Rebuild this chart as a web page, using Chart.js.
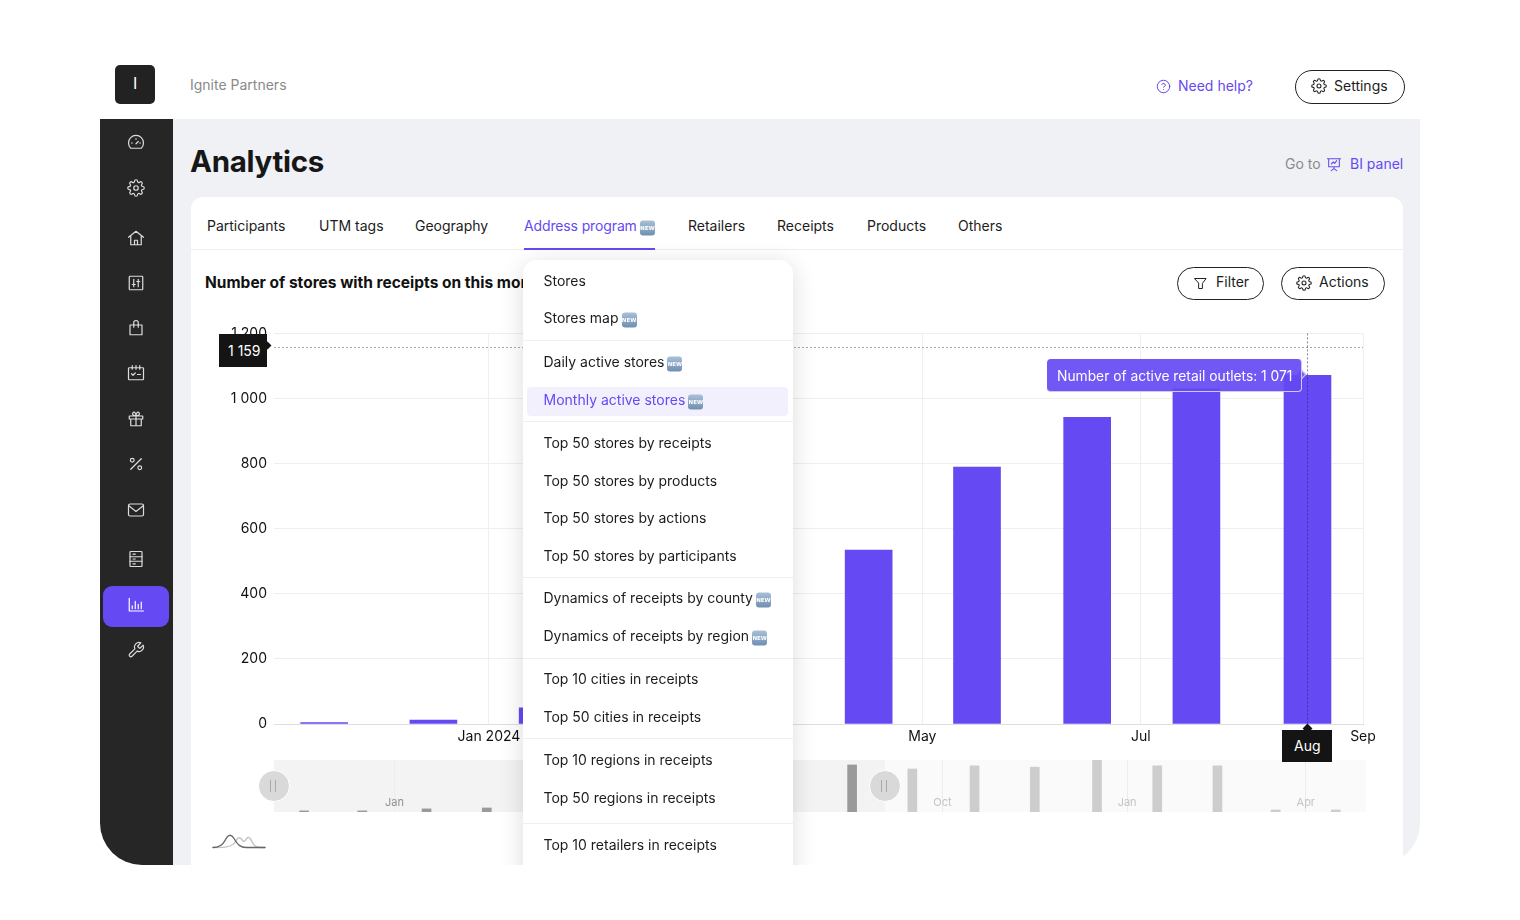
<!DOCTYPE html>
<html>
<head>
<meta charset="utf-8">
<title>Analytics</title>
<script src="https://cdn.jsdelivr.net/npm/chart.js@4/dist/chart.umd.min.js"></script>
<style>
  html, body { margin: 0; background: #fff; font-family: Inter, sans-serif; color: #1c1c1c; }
  body { width: 1520px; height: 920px; position: relative; overflow: hidden; }
  .t { position: absolute; white-space: nowrap; transform: translateY(calc(-50% - 1px)); font-size: 14px; }
  .box { position: absolute; box-sizing: border-box; }
  .ic { position: absolute; fill: none; stroke: currentColor; stroke-width: 1.6; stroke-linecap: round; stroke-linejoin: round; }
  .pill { position: absolute; box-sizing: border-box; border: 1.5px solid #222; border-radius: 20px; background: #fff; }
  .new { display: inline-block; width: 15px; height: 15px; margin-left: 3px; border-radius: 3px; background: linear-gradient(#a9c0d8, #6f8fb2);
         color: #fff; font: bold 5.500px/15px "DejaVu Sans"; text-align: center; vertical-align: 1px; letter-spacing: 0; }
  #clip { position: absolute; left: 100px; top: 119px; width: 1320px; height: 746px; overflow: hidden; border-radius: 0 0 42px 42px; background: #eff1f4; }
  #inner { position: absolute; left: -100px; top: -119px; width: 1520px; height: 920px; }
  #chartWrap { position: absolute; left: 191px; top: 318px; width: 1212px; height: 442px; }
  #navWrap { position: absolute; left: 274px; top: 760px; width: 1092px; height: 52px; background: linear-gradient(90deg, #f3f3f3 0, #f3f3f3 611px, #fafafa 611px); }
  #menu { position: absolute; left: 523px; top: 260px; width: 270px; height: 640px; background: #fff; border-radius: 14px; box-shadow: 0 4px 24px rgba(0,0,0,.14); }
  .handle { position: absolute; width: 32px; height: 32px; margin: -16px 0 0 -16px; box-sizing: border-box; border-radius: 50%; background: #d9d9d9; border: 1px solid #fff; }
  .handle:after { content: ""; position: absolute; left: 11px; top: 9px; width: 4px; height: 12px; border-left: 1px solid #aaa; border-right: 1px solid #aaa; }
</style>
</head>
<body>
<div id="page"></div>
<script>
// main chart, one bar per month
const monthDates = ["2023-11-16", "2023-12-16T12:00Z", "2024-01-16", "2024-02-15", "2024-03-16", "2024-04-16", "2024-05-16T06:00Z", "2024-06-16", "2024-07-16T12:00Z", "2024-08-16T12:00Z"];
const storeCounts = [4, 12, 50, 140, 330, 534, 789, 942, 1030, 1071];
const tickDates = ["2024-01-01", "2024-03-01", "2024-05-01", "2024-07-01", "2024-09-01"];
const tickLabels = ["Jan 2024", "Mar", "May", "Jul", "Sep"];
const yTicks = [0, 200, 400, 600, 800, 1000, 1200];
const xRange = ["2023-11-02", "2024-09-01"];
const hoverMonth = "2024-08-16T12:00Z";
const hoverValue = 1159;

// overview strip under the chart
const navDates = ["2022-11-17", "2022-12-16", "2023-01-17", "2023-02-16", "2023-03-16", "2023-04-16", "2023-05-16", "2023-06-16", "2023-07-16", "2023-08-17", "2023-09-16", "2023-10-17", "2023-11-16", "2023-12-17", "2024-01-16", "2024-02-15", "2024-03-15", "2024-04-14"];
const navCounts = [25, 25, 70, 90, 130, 340, 540, 790, 1000, 1050, 960, 1030, 1000, 1160, 1030, 1030, 45, 45];
const navTickDates = ["2023-01-01", "2023-10-01", "2024-01-01", "2024-03-30"];
const navTickLabels = ["Jan", "Oct", "Jan", "Apr"];
const navRange = ["2022-11-02", "2024-04-29"];
const navSplit = "2023-09-01";

const tabs = [["Participants", 207], ["UTM tags", 319], ["Geography", 415], ["Address program", 524, 1], ["Retailers", 688], ["Receipts", 777], ["Products", 867], ["Others", 958]];
const menuItems = [["Stores", 281], ["Stores map", 318, 1], ["Daily active stores", 362, 1], ["Monthly active stores", 400, 1], ["Top 50 stores by receipts", 443], ["Top 50 stores by products", 481], ["Top 50 stores by actions", 518], ["Top 50 stores by participants", 556], ["Dynamics of receipts by county", 598, 1], ["Dynamics of receipts by region", 636, 1], ["Top 10 cities in receipts", 679], ["Top 50 cities in receipts", 717], ["Top 10 regions in receipts", 760], ["Top 50 regions in receipts", 798], ["Top 10 retailers in receipts", 845]];
const menuLines = [340, 421, 577, 658, 738, 823];

const purple = "#6549f3";
const ms = d => Date.parse(d);

const icons = {
  gear: '<circle cx="12" cy="12" r="3"/><path d="M19.4 15a1.65 1.65 0 0 0 .33 1.82l.06.06a2 2 0 0 1-2.83 2.83l-.06-.06a1.65 1.65 0 0 0-1.82-.33 1.65 1.65 0 0 0-1 1.51V21a2 2 0 0 1-4 0v-.09A1.65 1.65 0 0 0 9 19.4a1.65 1.65 0 0 0-1.82.33l-.06.06a2 2 0 0 1-2.83-2.83l.06-.06a1.65 1.65 0 0 0 .33-1.82 1.65 1.65 0 0 0-1.51-1H3a2 2 0 0 1 0-4h.09A1.65 1.65 0 0 0 4.6 9a1.65 1.65 0 0 0-.33-1.82l-.06-.06a2 2 0 0 1 2.83-2.83l.06.06a1.65 1.65 0 0 0 1.82.33H9a1.65 1.65 0 0 0 1-1.51V3a2 2 0 0 1 4 0v.09a1.65 1.65 0 0 0 1 1.51 1.65 1.65 0 0 0 1.82-.33l.06-.06a2 2 0 0 1 2.83 2.83l-.06.06a1.65 1.65 0 0 0-.33 1.82V9a1.65 1.65 0 0 0 1.51 1H21a2 2 0 0 1 0 4h-.09a1.65 1.65 0 0 0-1.51 1z"/>',
  gauge: '<path d="M5 19a10 10 0 1 1 14 0zM12 13l3-3M6 12h1M17 12h1M12 6v1"/>',
  home: '<path d="M2 11l10-8 10 8M5 9v12h14V9M10 21v-6h4v6"/>',
  sliders: '<rect x="3" y="3" width="18" height="18" rx="1"/><path d="M9 7v10M15 7v10M7 14h4M13 10h4"/>',
  bag: '<path d="M4 8h16v13H4zM9 11V5a3 3 0 0 1 6 0v6"/>',
  cal: '<rect x="2" y="5" width="20" height="16" rx="1"/><path d="M7 2v5M12 2v5M17 2v5M6 13l2 2 3-3M14 14h4"/>',
  gift: '<path d="M3 8h18v4H3zM5 12v9h14v-9M12 8v13M12 8C9 8 6 6 8 3.500s4 1.500 4 4.500c0-3 2-7 4-4.500s-1 4.500-4 4.500"/>',
  percent: '<path d="M19 5L5 19"/><circle cx="7" cy="7" r="2.500"/><circle cx="17" cy="17" r="2.500"/>',
  mail: '<rect x="2" y="4" width="20" height="16" rx="2"/><path d="M2 6l10 8 10-8"/>',
  list: '<rect x="4" y="2" width="16" height="20" rx="1"/><path d="M4 9h16M4 15h16M8 5.500h3M8 12h3M8 18.500h3"/>',
  bars: '<path d="M3 3v17h19M7 17v-4M11 17V7M15 17v-6M19 17V8"/>',
  tool: '<path d="M14.7 6.300a1 1 0 0 0 0 1.400l1.600 1.600a1 1 0 0 0 1.400 0l3.770-3.770a6 6 0 0 1-7.940 7.940l-6.910 6.910a2.120 2.120 0 0 1-3-3l6.910-6.910a6 6 0 0 1 7.940-7.940l-3.760 3.760z"/>',
  help: '<circle cx="12" cy="12" r="10"/><path d="M9.100 9a3 3 0 0 1 5.800 1c0 2-3 3-3 3M12 17h.01"/>',
  board: '<path d="M2 4h20M4 4v12h16V4M12 16v3M8 22l4-3 4 3M8 12l3-3 2 2 3-4"/>',
  filter: '<path d="M3 4h18l-6 8v8H9v-8z"/>'
};
const icon = (name, cx, cy, size, color) =>
  `<svg class="ic" viewBox="0 0 24 24" width="${size}" height="${size}" style="left:${cx - size / 2}px;top:${cy - size / 2}px;color:${color}">${icons[name]}</svg>`;
const text = (s, x, y, css) => `<div class="t" style="left:${x}px;top:${y}px;${css || ""}">${s}</div>`;
const box = (x, y, w, h, css) => `<div class="box" style="left:${x}px;top:${y}px;width:${w}px;height:${h}px;${css}"></div>`;
const newTag = '<span class="new">NEW</span>';

const sideIcons = [["gauge", 143], ["gear", 188], ["home", 238], ["sliders", 283], ["bag", 328], ["cal", 373], ["gift", 419], ["percent", 464], ["mail", 510], ["list", 559], ["bars", 605], ["tool", 650]];

let html = "";
// top bar
html += box(115, 65, 40, 39, "background:#222;border-radius:5px");
html += text("I", 133, 84, "color:#fff;font-size:16px");
html += text("Ignite Partners", 190, 85, "color:#8a8a8a;font-size:14px");
html += icon("help", 1163, 86, 15, purple);
html += text("Need help?", 1178, 86, `color:${purple}`);
html += `<div class="pill" style="left:1295px;top:70px;width:110px;height:34px"></div>`;
html += icon("gear", 1319, 86, 16, "#222");
html += text("Settings", 1334, 86);

// frame
html += '<div id="clip"><div id="inner">';
html += box(100, 119, 73, 760, "background:#262626");
html += box(103, 586, 66, 41, `background:${purple};border-radius:9px`);
sideIcons.forEach(([n, y]) => { html += icon(n, 136, y, 18, n === "bars" ? "#fff" : "#ddd"); });
html += text("Analytics", 190, 162, "font-size:29.500px;font-weight:700;letter-spacing:-.3px;color:#171717");
html += text("Go to", 1285, 164, "color:#8a8a8a");
html += icon("board", 1334, 164, 16, purple);
html += text("BI panel", 1350, 164, `color:${purple}`);

// card
html += box(191, 197, 1212, 700, "background:#fff;border-radius:12px 12px 0 0");
html += box(191, 249, 1212, 1, "background:#eeeff1");
tabs.forEach(([s, x, isNew]) => {
  html += text(s + (isNew ? newTag : ""), x, isNew ? 227 : 226, s === "Address program" ? `color:${purple};letter-spacing:-.13px` : "");
});
html += box(524, 248, 131, 2, `background:${purple}`);
html += text("Number of stores with receipts on this month", 205, 283, "font-size:15.500px;font-weight:700;color:#111");
html += `<div class="pill" style="left:1177px;top:267px;width:87px;height:33px"></div>`;
html += icon("filter", 1200, 283, 15, "#222");
html += text("Filter", 1216, 282);
html += `<div class="pill" style="left:1281px;top:267px;width:104px;height:33px"></div>`;
html += icon("gear", 1304, 283, 16, "#222");
html += text("Actions", 1319, 282);

// charts
html += '<div id="chartWrap"><canvas id="mainChart"></canvas></div>';
html += '<div id="navWrap"><canvas id="navChart"></canvas></div>';
html += `<div class="handle" style="left:274px;top:786px"></div><div class="handle" style="left:885px;top:786px"></div>`;
html += `<svg class="ic" style="left:212px;top:832px;stroke-width:1.400" width="54" height="20" viewBox="0 0 54 20"><path stroke="#c4c4c4" d="M1 15.500c10 0 15 0 20-3 3-3 5-9 8-6 3 4 3 4 5 1 3-5 5 0 7 4 2 4 5 4 12 4"/><path stroke="#666" d="M1 15.500c5 0 9-1 12-7 3-6 6-7 9-2 4 7 7 9 12 9h19"/></svg>`;

// axis tooltips
html += box(219, 334, 48, 33, "background:#141414");
html += text("1 159", 228, 351, "color:#fff");
html += box(264, 342, 7, 7, "background:#141414;transform:rotate(45deg) scale(.8)");
html += box(1304, 725, 7, 7, "background:#141414;transform:rotate(45deg)");
html += box(1282, 730, 50, 32, "background:#141414");
html += text("Aug", 1294, 746, "color:#fff");
html += box(1298, 371, 7, 7, "background:#7560f4;transform:rotate(45deg);border-top:1px solid #d8d2fb;border-right:1px solid #d8d2fb");
html += box(1047, 359, 255, 33, "background:rgba(101,73,243,.92);border-radius:4px;border-right:1px solid #cfc8fb;border-bottom:1px solid #cfc8fb");
html += text("Number of active retail outlets: 1 071", 1057, 376.500, "color:#fff;font-size:13.800px");

// dropdown
html += '<div id="menu"></div>';
html += box(527, 387, 261, 29, "background:#f3f0fe;border-radius:4px");
menuLines.forEach(y => { html += box(523, y, 270, 1, "background:#efefef"); });
menuItems.forEach(([s, y, isNew]) => {
  html += text(s + (isNew ? newTag : ""), 543.500, isNew ? y + 1 : y, s === "Monthly active stores" ? `color:${purple}` : "");
});
html += "</div></div>";
document.getElementById("page").innerHTML = html;

// hovered month crosshair, goes through the scales
const crosshair = {
  id: "crosshair",
  afterDatasetsDraw(chart) {
    const { ctx, scales: { x, y }, chartArea: a } = chart;
    const px = Math.round(x.getPixelForValue(ms(hoverMonth))) + .5;
    const py = Math.round(y.getPixelForValue(hoverValue)) + .5;
    ctx.save();
    ctx.setLineDash([2, 2]);
    ctx.lineWidth = 1;
    ctx.strokeStyle = "#a8a8a8";
    ctx.beginPath();
    ctx.moveTo(a.left, py);
    ctx.lineTo(a.right, py);
    ctx.stroke();
    ctx.strokeStyle = "rgba(40,30,90,.55)";
    ctx.beginPath();
    ctx.moveTo(px, a.top);
    ctx.lineTo(px, a.bottom);
    ctx.stroke();
    ctx.restore();
  }
};

new Chart(document.getElementById("mainChart"), {
  type: "bar",
  data: {
    datasets: [{
      data: monthDates.map((d, i) => ({ x: ms(d), y: storeCounts[i] })),
      backgroundColor: purple,
      barThickness: 47
    }]
  },
  plugins: [crosshair],
  options: {
    responsive: true,
    maintainAspectRatio: false,
    animation: false,
    layout: { padding: { top: 13, right: 40 } },
    plugins: { legend: { display: false }, tooltip: { enabled: false } },
    scales: {
      x: {
        type: "linear",
        offset: false,
        min: ms(xRange[0]),
        max: ms(xRange[1]),
        afterBuildTicks: s => { s.ticks = tickDates.map(d => ({ value: ms(d) })); },
        afterFit: s => { s.height = 36; },
        grid: { color: "#efefef", drawTicks: false, offset: false },
        border: { color: "#dedede" },
        ticks: {
          autoSkip: false, maxRotation: 0, padding: 4, color: "#111",
          font: { family: "Inter", size: 14 },
          callback: v => tickLabels[tickDates.findIndex(d => ms(d) === v)]
        }
      },
      y: {
        min: 0,
        max: 1200,
        afterBuildTicks: s => { s.ticks = yTicks.map(v => ({ value: v })); },
        afterFit: s => { s.width = 83; },
        grid: { color: "#efefef", drawTicks: false },
        border: { display: false },
        ticks: {
          padding: 7, color: "#111",
          font: { family: "Inter", size: 14 },
          callback: v => v >= 1000 ? String(v).replace(/(\d)(\d{3})$/, "$1 $2") : v
        }
      }
    }
  }
});

// overview labels sit inside the strip, over the bars
const navLabels = {
  id: "navLabels",
  afterDatasetsDraw(chart) {
    const { ctx, scales: { x } } = chart;
    ctx.save();
    ctx.font = "11px Inter";
    ctx.textAlign = "center";
    ctx.textBaseline = "middle";
    navTickDates.forEach((d, i) => {
      ctx.fillStyle = ms(d) < ms(navSplit) ? "#8f8f8f" : "#c4c4c4";
      ctx.fillText(navTickLabels[i], x.getPixelForValue(ms(d)), 42.500);
    });
    ctx.restore();
  }
};

new Chart(document.getElementById("navChart"), {
  type: "bar",
  data: {
    datasets: [{
      data: navDates.map((d, i) => ({ x: ms(d), y: navCounts[i] })),
      backgroundColor: c => c.raw.x < ms(navSplit) ? "#9a9a9a" : "#cdcdcd",
      barThickness: 9
    }]
  },
  plugins: [navLabels],
  options: {
    responsive: true,
    maintainAspectRatio: false,
    animation: false,
    plugins: { legend: { display: false }, tooltip: { enabled: false } },
    scales: {
      x: {
        type: "linear",
        offset: false,
        min: ms(navRange[0]),
        max: ms(navRange[1]),
        afterBuildTicks: s => { s.ticks = navTickDates.map(d => ({ value: ms(d) })); },
        afterFit: s => { s.height = 0; },
        grid: { color: "#ededed", drawTicks: false, offset: false },
        border: { display: false },
        ticks: { display: false }
      },
      y: { display: false, min: 0, max: 1160 }
    }
  }
});
</script>
</body>
</html>
